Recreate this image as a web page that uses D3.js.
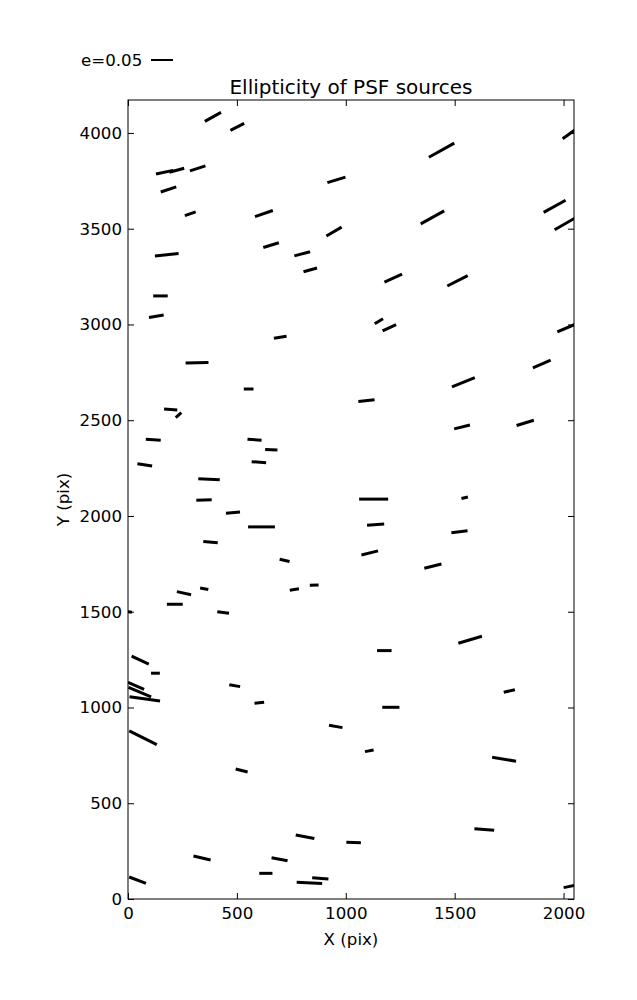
<!DOCTYPE html>
<html><head><meta charset="utf-8">
<script src="https://cdn.jsdelivr.net/npm/d3@7"></script>
<style>body{margin:0;background:#fff}svg{display:block}text{font-family:"DejaVu Sans",sans-serif}</style>
</head><body><svg id="c" width="637" height="1000"></svg>
<script>
// Source positions (pix), ellipticity e, and position angle (deg, screen, CCW from +X)
const srcX = [390,502,168,224,320,186,286,624,657,178,149,957,946,800,837,1218,1398,1440,2037,1959,2009,1513,130,699,1152,1200,2018,1900,1540,317,554,1095,196,232,1534,1824,116,581,658,601,77,372,1546,1128,349,482,613,1137,1522,379,1110,719,1400,257,350,764,855,215,437,2,1571,1177,56,126,490,1751,37,54,77,603,1207,954,69,1108,522,1727,1636,813,1036,340,696,633,44,883,833,2032];
const srcY = [4084,4032,3795,3805,3815,3705,3578,3579,3414,3364,3149,3755,3485,3369,3285,3242,3559,3910,4003,3617,3527,3228,3043,2933,3017,2983,2984,2793,2698,2800,2663,2602,2556,2526,2465,2486,2398,2398,2346,2281,2267,2192,2095,2088,2083,2017,1943,1955,1918,1863,1807,1768,1738,1597,1620,1616,1639,1539,1496,1500,1354,1297,1247,1179,1114,1086,1113,1080,1045,1025,1001,901,842,774,671,730,363,325,295,214,208,134,98,108,84,67];
const srcE = [0.042,0.035,0.040,0.035,0.037,0.037,0.026,0.043,0.037,0.054,0.033,0.043,0.040,0.037,0.032,0.044,0.061,0.066,0.050,0.057,0.057,0.052,0.034,0.029,0.022,0.034,0.050,0.044,0.056,0.052,0.022,0.037,0.030,0.017,0.037,0.041,0.034,0.032,0.028,0.033,0.034,0.049,0.015,0.066,0.035,0.032,0.061,0.039,0.037,0.033,0.039,0.023,0.040,0.033,0.019,0.021,0.020,0.036,0.027,0.016,0.056,0.033,0.043,0.020,0.025,0.026,0.040,0.056,0.070,0.022,0.039,0.031,0.070,0.020,0.028,0.055,0.045,0.043,0.033,0.040,0.037,0.030,0.041,0.037,0.058,0.032];
const srcA = [29,27,12,15,18,18,19,19,17,5.5,0,17,30,15,16,24,29,29,36,29,30,27,10,9,31,25,23,23.5,22,1,0,6,-4,42,14,17,-3,-4,-3,-4,-9,-3,14,0,2,5,0,4,7,-5,14,-13.5,14,-12,-11.5,10,2,0,-8,-10,16.5,0,-25,0,-10,13,-24,-23,-8,6,0,-10,-26.6,11,-14,-9.6,-4.6,-11,-1.6,-13,-10.6,0,-21,-4.5,-3,12];
const xTicks = [0,500,1000,1500,2000];
const yTicks = [0,500,1000,1500,2000,2500,3000,3500,4000];
const legendE = 0.05;

const svg = d3.select("#c");
const L = 128, R = 574, T = 100, B = 899;
const x = d3.scaleLinear().domain([0,2048]).range([L,R]);
const y = d3.scaleLinear().domain([0,4172]).range([B,T]);
const len = d3.scaleLinear().domain([0,legendE]).range([0,22]);

svg.append("defs").append("clipPath").attr("id","pc").append("rect")
  .attr("x",L).attr("y",T).attr("width",R-L).attr("height",B-T);

const data = srcX.map((v,i)=>({x:v,y:srcY[i],e:srcE[i],a:srcA[i]}));
svg.append("g").attr("clip-path","url(#pc)").selectAll("line").data(data).join("line")
  .attr("x1",d=>x(d.x)-len(d.e)/2*Math.cos(d.a*Math.PI/180))
  .attr("x2",d=>x(d.x)+len(d.e)/2*Math.cos(d.a*Math.PI/180))
  .attr("y1",d=>y(d.y)+len(d.e)/2*Math.sin(d.a*Math.PI/180))
  .attr("y2",d=>y(d.y)-len(d.e)/2*Math.sin(d.a*Math.PI/180))
  .attr("stroke","#000").attr("stroke-width",3);

// axes (ticks inward on all four sides)
const tk = 6, fs = 16.67;
const fmt = d3.format("d");
svg.append("g").attr("transform",`translate(0,${B})`).call(d3.axisBottom(x).tickValues(xTicks).tickSize(-tk).tickPadding(8).tickFormat(fmt));
svg.append("g").attr("transform",`translate(0,${T})`).call(d3.axisTop(x).tickValues(xTicks).tickSize(-tk).tickFormat(""));
svg.append("g").attr("transform",`translate(${L},0)`).call(d3.axisLeft(y).tickValues(yTicks).tickSize(-tk).tickPadding(6).tickFormat(fmt));
svg.append("g").attr("transform",`translate(${R},0)`).call(d3.axisRight(y).tickValues(yTicks).tickSize(-tk).tickFormat(""));
svg.selectAll(".domain").remove();
svg.selectAll(".tick line").attr("stroke","#000");
svg.selectAll(".tick text").attr("font-size",fs).attr("font-family","DejaVu Sans").attr("fill","#000");
svg.append("rect").attr("x",L).attr("y",T).attr("width",R-L).attr("height",B-T)
  .attr("fill","none").attr("stroke","#000").attr("stroke-width",1);

svg.append("text").attr("x",(L+R)/2).attr("y",94).attr("text-anchor","middle").attr("font-size",20).text("Ellipticity of PSF sources");
svg.append("text").attr("x",(L+R)/2).attr("y",945).attr("text-anchor","middle").attr("font-size",fs).text("X (pix)");
svg.append("text").attr("transform",`translate(69,${(T+B)/2}) rotate(-90)`).attr("text-anchor","middle").attr("font-size",fs).text("Y (pix)");

// legend
svg.append("text").attr("x",81).attr("y",66).attr("font-size",fs).text("e=" + legendE.toFixed(2));
svg.append("line").attr("x1",151).attr("x2",151+len(legendE)).attr("y1",60).attr("y2",60).attr("stroke","#000").attr("stroke-width",2);
</script></body></html>
